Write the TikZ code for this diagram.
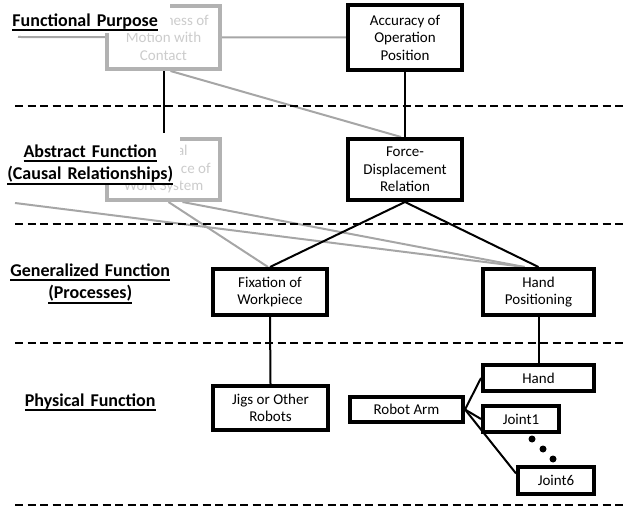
\documentclass[tikz,border=0pt]{standalone}
\usepackage{fontspec}
\setmainfont{Carlito}
\usetikzlibrary{positioning,backgrounds}

\definecolor{boxgrey}{gray}{0.70}
\definecolor{txtgrey}{gray}{0.80}
\definecolor{linegrey}{gray}{0.65}

\newcommand{\boxfont}{\fontsize{15}{17.5}\selectfont}
\newcommand{\lvlfont}{\bfseries\fontsize{18}{22.5}\selectfont}
\newcommand{\lvlline}[1]{\leavevmode\setbox0=\hbox{#1}\rlap{\copy0}\rule[-5pt]{\wd0}{2pt}}

\tikzset{
  fbox/.style={draw=black, line width=4pt, fill=white, align=center, inner sep=0pt, font=\boxfont},
  gbox/.style={fbox, draw=boxgrey, text=txtgrey},
  lvl/.style={fill=white, anchor=north west, inner sep=0pt, text width=#1, align=center, font=\lvlfont},
  sep/.style={line width=2.4pt, dash pattern=on 8pt off 4.5pt},
  gline/.style={draw=linegrey, line width=2pt},
  bline/.style={draw=black, line width=2pt},
}

\begin{document}
\begin{tikzpicture}[x=1pt, y=-1pt]
    \useasboundingbox (0,0) rectangle (623,510);

    % Level separators
    \foreach \y in {106,224,343,505}
        \draw[sep] (15,\y) -- (623,\y);

    % Functional purpose (grey box partly hidden by the level name)
    \node[gbox, minimum width=113pt, minimum height=63pt] (smooth) at (163.5,37.5) {\phantom{Smooth}ness of\\Motion with\\Contact};
    \node[fbox, minimum width=114pt, minimum height=65pt] (accuracy) at (405,37.5) {Accuracy of\\Operation\\Position};

    % Abstract function
    \node[gbox, minimum width=113pt, minimum height=61pt] (physperf) at (163.5,169.5) {\phantom{Physic}al\\\phantom{Performan}ce of\\Work System};
    \node[fbox, minimum width=114pt, minimum height=61pt] (forcedisp) at (405,169.5) {Force-\\Displacement\\Relation};

    % Generalized function
    \node[fbox, minimum width=114pt, minimum height=46pt] (fixation) at (270,292) {Fixation of\\Workpiece};
    \node[fbox, minimum width=111pt, minimum height=46pt] (handpos) at (538.5,292) {Hand\\Positioning};

    % Physical function
    \node[fbox, minimum width=115pt, minimum height=44pt] (jigs) at (270.5,408) {Jigs or Other\\Robots};
    \node[fbox, minimum width=111pt, minimum height=26pt] (hand) at (538.5,378) {Hand};
    \node[fbox, minimum width=113pt, minimum height=25pt] (arm) at (406.5,409.5) {Robot Arm};
    \node[fbox, minimum width=76pt, minimum height=26pt] (joint1) at (521,419) {Joint1};
    \node[fbox, minimum width=76pt, minimum height=27pt] (joint6) at (556,480.5) {Joint6};

    % Joints 2..5
    \foreach \px/\py in {532/439, 543/449, 553/459}
        \fill (\px,\py) circle (3.5pt);

    % Free ends of the grey links
    \coordinate (fpstub) at (18,37);
    \coordinate (afstub) at (15,203);

    % Links, behind the boxes
    \begin{pgfonlayer}{background}
        \draw[gline] (fpstub) -- (accuracy.west);
        \draw[gline] ([xshift=7pt]smooth.south) -- ([xshift=-4pt]forcedisp.north);
        \draw[gline] ([xshift=5pt]physperf.south) -- ([xshift=-2pt]fixation.north);
        \draw[gline] ([xshift=19pt]physperf.south) -- ([xshift=-14pt]handpos.north);
        \draw[gline] (afstub) -- ([xshift=-14pt]handpos.north);
        \draw[bline] (smooth.south) -- (physperf.north);
        \draw[bline] (accuracy.south) -- (forcedisp.north);
        \draw[bline] (forcedisp.south) -- (fixation.north);
        \draw[bline] (forcedisp.south) -- (handpos.north);
        \draw[bline] (fixation.south) -- (jigs.north);
        \draw[bline] (handpos.south) -- (hand.north);
        \draw[bline] (arm.east) -- (hand.west);
        \draw[bline] (arm.east) -- (joint1.west);
        \draw[bline] (arm.east) -- (joint6.170);
    \end{pgfonlayer}

    % Level names
    \node[lvl=170pt, text height=26pt, text depth=7pt] (fp) at (0,0) {\lvlline{Functional Purpose}};
    \node[lvl=180pt, text height=24pt, text depth=28pt] (af) at (0,133) {\lvlline{Abstract Function}\\\lvlline{(Causal Relationships)}};
    \node[lvl=180pt, text height=26pt, text depth=30pt] (gf) at (0,250) {\lvlline{Generalized Function}\\\lvlline{(Processes)}};
    \node[lvl=180pt, text height=26pt, text depth=7pt] (pf) at (0,380) {\lvlline{Physical Function}};
\end{tikzpicture}
\end{document}
